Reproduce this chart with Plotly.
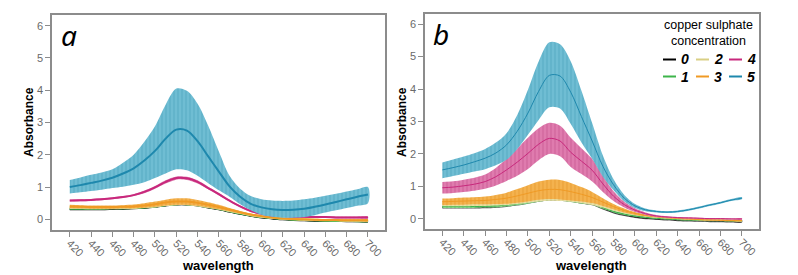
import plotly.graph_objects as go

wavelength = list(range(420, 701, 10))
tick_vals = list(range(420, 701, 20))
tick_text = [str(v) for v in tick_vals]
y_ticks = [0, 1, 2, 3, 4, 5, 6]
concentrations = ["0", "1", "2", "3", "4", "5"]

# ---- panel a ----
a_mean_0 = [0.31, 0.31, 0.31, 0.31, 0.32, 0.33, 0.34, 0.36, 0.39, 0.43, 0.46, 0.46, 0.43, 0.37, 0.31, 0.24, 0.17, 0.11, 0.06, 0.03, 0.0, -0.02, -0.03, -0.04, -0.05, -0.05, -0.06, -0.06, -0.07]
a_err_0 = [0.02] * 29
a_mean_1 = [0.33, 0.33, 0.33, 0.33, 0.34, 0.34, 0.35, 0.37, 0.40, 0.44, 0.47, 0.47, 0.44, 0.38, 0.32, 0.25, 0.18, 0.12, 0.07, 0.04, 0.01, -0.01, -0.02, -0.03, -0.04, -0.05, -0.05, -0.06, -0.06]
a_err_1 = [0.02, 0.02, 0.02, 0.02, 0.02, 0.02, 0.02, 0.02, 0.03, 0.03, 0.03, 0.03, 0.03, 0.03, 0.02, 0.02, 0.02, 0.02, 0.02, 0.02, 0.02, 0.02, 0.02, 0.02, 0.02, 0.02, 0.02, 0.02, 0.02]
a_mean_2 = [0.36, 0.36, 0.35, 0.35, 0.35, 0.36, 0.37, 0.40, 0.43, 0.48, 0.51, 0.51, 0.47, 0.41, 0.35, 0.27, 0.20, 0.13, 0.08, 0.05, 0.02, 0.0, -0.01, -0.02, -0.03, -0.03, -0.04, -0.04, -0.04]
a_err_2 = [0.04, 0.04, 0.04, 0.04, 0.04, 0.04, 0.05, 0.05, 0.06, 0.07, 0.07, 0.07, 0.07, 0.06, 0.05, 0.04, 0.03, 0.03, 0.02, 0.02, 0.02, 0.02, 0.02, 0.02, 0.02, 0.02, 0.02, 0.02, 0.02]
a_mean_3 = [0.40, 0.39, 0.38, 0.38, 0.38, 0.39, 0.40, 0.43, 0.47, 0.52, 0.55, 0.55, 0.51, 0.45, 0.38, 0.30, 0.22, 0.15, 0.10, 0.06, 0.03, 0.01, 0.0, -0.01, -0.02, -0.02, -0.03, -0.03, -0.03]
a_err_3 = [0.05, 0.05, 0.05, 0.05, 0.05, 0.05, 0.06, 0.07, 0.08, 0.09, 0.10, 0.10, 0.09, 0.08, 0.07, 0.05, 0.04, 0.03, 0.03, 0.03, 0.03, 0.03, 0.03, 0.03, 0.03, 0.03, 0.03, 0.03, 0.03]
a_mean_4 = [0.58, 0.59, 0.60, 0.62, 0.65, 0.69, 0.75, 0.85, 0.99, 1.16, 1.28, 1.27, 1.16, 0.97, 0.78, 0.58, 0.40, 0.26, 0.17, 0.12, 0.10, 0.08, 0.08, 0.07, 0.07, 0.06, 0.06, 0.06, 0.06]
a_err_4 = [0.03, 0.03, 0.03, 0.03, 0.03, 0.03, 0.03, 0.04, 0.04, 0.05, 0.05, 0.05, 0.05, 0.04, 0.04, 0.03, 0.03, 0.03, 0.03, 0.03, 0.03, 0.03, 0.03, 0.03, 0.03, 0.03, 0.03, 0.03, 0.03]
a_mean_5 = [1.00, 1.06, 1.13, 1.20, 1.29, 1.42, 1.58, 1.82, 2.12, 2.50, 2.78, 2.75, 2.42, 1.95, 1.48, 1.02, 0.70, 0.48, 0.37, 0.31, 0.29, 0.30, 0.33, 0.39, 0.46, 0.54, 0.62, 0.70, 0.77]
a_upper_5 = [1.22, 1.30, 1.38, 1.45, 1.55, 1.75, 2.00, 2.40, 2.88, 3.55, 4.05, 3.98, 3.58, 2.90, 2.10, 1.35, 0.95, 0.72, 0.62, 0.58, 0.57, 0.58, 0.62, 0.67, 0.73, 0.79, 0.86, 0.93, 1.00]
a_lower_5 = [0.80, 0.84, 0.88, 0.92, 0.97, 1.01, 1.07, 1.15, 1.28, 1.42, 1.55, 1.52, 1.35, 1.12, 0.90, 0.70, 0.47, 0.28, 0.14, 0.08, 0.05, 0.05, 0.07, 0.13, 0.21, 0.28, 0.35, 0.42, 0.50]

# ---- panel b ----
b_mean_0 = [0.36, 0.36, 0.36, 0.36, 0.37, 0.38, 0.41, 0.45, 0.51, 0.57, 0.61, 0.60, 0.57, 0.51, 0.46, 0.33, 0.21, 0.13, 0.07, 0.03, 0.01, -0.01, -0.03, -0.04, -0.05, -0.06, -0.06, -0.07, -0.07]
b_err_0 = [0.04] * 29
b_mean_1 = [0.38, 0.38, 0.38, 0.38, 0.39, 0.40, 0.43, 0.47, 0.53, 0.60, 0.64, 0.63, 0.59, 0.53, 0.48, 0.35, 0.23, 0.15, 0.09, 0.05, 0.02, 0.0, -0.02, -0.03, -0.04, -0.05, -0.05, -0.06, -0.06]
b_err_1 = [0.04, 0.04, 0.04, 0.04, 0.04, 0.05, 0.05, 0.05, 0.06, 0.07, 0.07, 0.07, 0.07, 0.06, 0.05, 0.04, 0.03, 0.03, 0.02, 0.02, 0.02, 0.02, 0.02, 0.02, 0.02, 0.02, 0.02, 0.02, 0.02]
b_mean_2 = [0.47, 0.47, 0.48, 0.49, 0.50, 0.52, 0.56, 0.62, 0.69, 0.75, 0.78, 0.77, 0.73, 0.66, 0.57, 0.45, 0.32, 0.22, 0.14, 0.09, 0.05, 0.03, 0.01, -0.01, -0.02, -0.03, -0.04, -0.04, -0.05]
b_err_2 = [0.08, 0.08, 0.09, 0.09, 0.10, 0.11, 0.13, 0.16, 0.19, 0.21, 0.22, 0.22, 0.20, 0.17, 0.14, 0.10, 0.07, 0.05, 0.03, 0.02, 0.02, 0.02, 0.02, 0.02, 0.02, 0.02, 0.02, 0.02, 0.02]
b_mean_3 = [0.53, 0.54, 0.55, 0.56, 0.57, 0.60, 0.64, 0.71, 0.79, 0.87, 0.91, 0.90, 0.84, 0.76, 0.66, 0.52, 0.38, 0.26, 0.17, 0.11, 0.07, 0.04, 0.02, 0.0, -0.02, -0.03, -0.04, -0.05, -0.05]
b_err_3 = [0.10, 0.10, 0.11, 0.11, 0.12, 0.14, 0.17, 0.21, 0.25, 0.28, 0.30, 0.30, 0.27, 0.22, 0.17, 0.12, 0.08, 0.06, 0.04, 0.03, 0.02, 0.02, 0.02, 0.02, 0.02, 0.02, 0.02, 0.02, 0.02]
b_mean_4 = [0.96, 0.98, 1.02, 1.07, 1.15, 1.30, 1.51, 1.75, 2.02, 2.30, 2.48, 2.40, 2.05, 1.78, 1.50, 1.08, 0.70, 0.44, 0.27, 0.16, 0.09, 0.06, 0.04, 0.03, 0.02, 0.01, 0.01, 0.0, 0.0]
b_err_4 = [0.18, 0.18, 0.19, 0.20, 0.22, 0.27, 0.34, 0.42, 0.48, 0.49, 0.48, 0.47, 0.45, 0.40, 0.35, 0.25, 0.15, 0.09, 0.06, 0.04, 0.03, 0.02, 0.02, 0.02, 0.02, 0.02, 0.02, 0.02, 0.02]
b_mean_5 = [1.51, 1.58, 1.66, 1.76, 1.87, 2.03, 2.28, 2.70, 3.26, 3.93, 4.42, 4.40, 3.90, 3.15, 2.40, 1.62, 1.05, 0.64, 0.40, 0.28, 0.23, 0.21, 0.23, 0.28, 0.35, 0.43, 0.50, 0.58, 0.64]
b_upper_5 = [1.74, 1.83, 1.92, 2.02, 2.15, 2.35, 2.64, 3.20, 3.98, 4.85, 5.44, 5.38, 4.85, 3.95, 2.95, 1.95, 1.22, 0.74, 0.46, 0.32, 0.26, 0.24, 0.26, 0.31, 0.38, 0.46, 0.53, 0.61, 0.67]
b_lower_5 = [1.25, 1.32, 1.39, 1.46, 1.53, 1.65, 1.82, 2.15, 2.59, 3.05, 3.44, 3.40, 2.92, 2.35, 1.85, 1.30, 0.88, 0.54, 0.34, 0.24, 0.20, 0.18, 0.20, 0.25, 0.32, 0.40, 0.47, 0.55, 0.61]

line_colors = ["#000000", "#3db54a", "#d9cf84", "#f09a24", "#c8287c", "#1e88ad"]
fill_colors = ["#555555", "#8ed68e", "#e8dfa4", "#f4b24e", "#df7bae", "#6fbdd3"]
stripe_colors = ["#222222", "#4fae55", "#c9bd72", "#dd8d1f", "#bb4583", "#3f97b4"]

W, H = 798, 275


def px(x):
    return x / W


def py(y):
    return 1 - y / H


fig = go.Figure()


def add_series(xa, ya, i, mean, lower, upper, lw):
    fig.add_trace(go.Scatter(
        x=wavelength + wavelength[::-1], y=upper + lower[::-1],
        mode="lines", fill="toself", fillcolor=fill_colors[i],
        fillpattern=dict(shape="|", fgcolor=stripe_colors[i], bgcolor=fill_colors[i],
                         size=4, solidity=0.25),
        line=dict(width=0, shape="spline", smoothing=0.9),
        xaxis=xa, yaxis=ya, showlegend=False, hoverinfo="skip"))
    fig.add_trace(go.Scatter(
        x=wavelength, y=mean, mode="lines",
        line=dict(color=line_colors[i], width=lw, shape="spline", smoothing=0.9),
        xaxis=xa, yaxis=ya, showlegend=False, name=concentrations[i]))


a_sets = [(a_mean_0, a_err_0), (a_mean_1, a_err_1), (a_mean_2, a_err_2),
          (a_mean_3, a_err_3), (a_mean_4, a_err_4)]
for i, (m, e) in enumerate(a_sets):
    add_series("x", "y", i, m, [v - d for v, d in zip(m, e)], [v + d for v, d in zip(m, e)], 2)
add_series("x", "y", 5, a_mean_5, a_lower_5, a_upper_5, 2)

b_sets = [(b_mean_0, b_err_0), (b_mean_1, b_err_1), (b_mean_2, b_err_2),
          (b_mean_3, b_err_3), (b_mean_4, b_err_4)]
for i, (m, e) in enumerate(b_sets):
    add_series("x2", "y2", i, m, [v - d for v, d in zip(m, e)], [v + d for v, d in zip(m, e)], 1)
add_series("x2", "y2", 5, b_mean_5, b_lower_5, b_upper_5, 1)

axis_common = dict(showline=True, mirror=True, linecolor="#8c8c8c", linewidth=1.5,
                   ticks="outside", ticklen=5, tickcolor="#8c8c8c", tickwidth=1,
                   showgrid=False, zeroline=False, automargin=False,
                   tickfont=dict(family="Liberation Sans, Arial", size=11, color="#6a6a6a"))

fig.update_layout(
    width=W, height=H, margin=dict(l=0, r=0, t=0, b=0),
    paper_bgcolor="white", plot_bgcolor="white", showlegend=False,
    xaxis=dict(domain=[px(52), px(385)], range=[403.3, 716], tickvals=tick_vals,
               ticktext=tick_text, tickangle=45, anchor="y", ticklabelstandoff=-4, **axis_common),
    yaxis=dict(domain=[py(230), py(15)], range=[-0.33, 6.33], tickvals=y_ticks,
               anchor="x", **axis_common),
    xaxis2=dict(domain=[px(425), px(759)], range=[403.8, 715.9], tickvals=tick_vals,
                ticktext=tick_text, tickangle=45, anchor="y2", ticklabelstandoff=-4, **axis_common),
    yaxis2=dict(domain=[py(229), py(14)], range=[-0.31, 6.31], tickvals=y_ticks,
                anchor="x2", **axis_common),
)

bold = dict(family="Liberation Sans, Arial", size=12, color="black", weight="bold")
ann = []
for xc, yc in [(29, 122), (402, 122)]:
    ann.append(dict(text="Absorbance", x=px(xc), y=py(yc), xref="paper", yref="paper",
                    textangle=-90, showarrow=False, font=bold,
                    xanchor="center", yanchor="middle"))
for xc in [218, 591]:
    ann.append(dict(text="wavelength", x=px(xc), y=py(265), xref="paper", yref="paper",
                    showarrow=False, font=dict(bold, size=13), xanchor="center", yanchor="middle"))
for lab, xc, yc in [("a", 59, 35), ("b", 431, 34)]:
    ann.append(dict(text=lab, x=px(xc), y=py(yc), xref="paper", yref="paper",
                    showarrow=False, xanchor="left", yanchor="middle",
                    font=dict(family="Noto Sans, Open Sans", size=28, color="black", style="italic")))
reg = dict(family="Liberation Sans, Arial", size=12.5, color="black")
ann.append(dict(text="copper sulphate<br>concentration", x=px(708), y=py(33), xref="paper",
                yref="paper", showarrow=False, xanchor="center", yanchor="middle",
                align="center", font=reg))

legend_order = [0, 2, 4, 1, 3, 5]
col_x = [(663, 676, 679), (696, 709, 712), (729, 742, 745)]
row_y = [59.5, 76.5]
shapes = []
for k, i in enumerate(legend_order):
    c = col_x[k % 3]
    r = row_y[k // 3]
    shapes.append(dict(type="line", xref="paper", yref="paper", x0=px(c[0]), x1=px(c[1]),
                       y0=py(r), y1=py(r), line=dict(color=line_colors[i], width=2)))
    ann.append(dict(text=concentrations[i], x=px(c[2]), y=py(r), xref="paper", yref="paper",
                    showarrow=False, xanchor="left", yanchor="middle",
                    font=dict(family="Liberation Sans, Arial", size=14, color="black",
                              weight="bold", style="italic")))

fig.update_layout(annotations=ann, shapes=shapes)
fig.write_html("out.html", config={"displayModeBar": False},
               post_script="document.body.style.margin='0';document.body.style.padding='0';")
